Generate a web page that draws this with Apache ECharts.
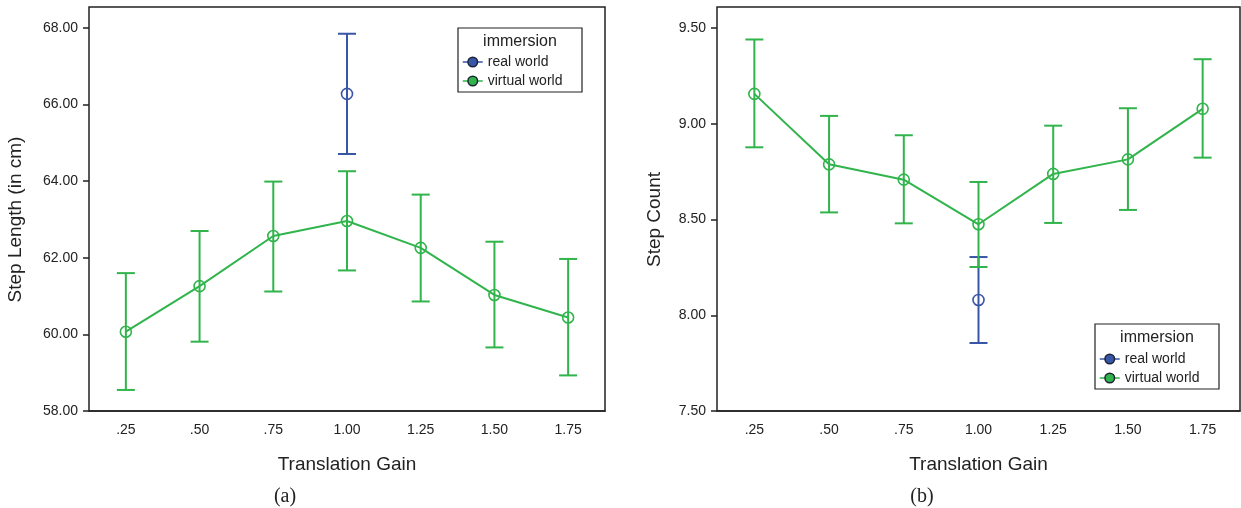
<!DOCTYPE html>
<html>
<head>
<meta charset="utf-8">
<script src="https://cdn.jsdelivr.net/npm/echarts@6/dist/echarts.min.js"></script>
<style>
  html, body { margin: 0; padding: 0; background: #fff; }
  #chart { width: 1241px; height: 508px; }
</style>
</head>
<body>
<div id="chart"></div>
<script>
// categories
const gains = ['.25', '.50', '.75', '1.00', '1.25', '1.50', '1.75']

// (a) step length, virtual world: mean and 95% CI
const lenVirtual = [60.07, 61.26, 62.57, 62.96, 62.26, 61.03, 60.44]
const lenVirtualLow = [58.55, 59.81, 61.12, 61.67, 60.86, 59.66, 58.93]
const lenVirtualHigh = [61.60, 62.70, 63.99, 64.26, 63.65, 62.42, 61.97]
// (a) step length, real world (only gain 1.00)
const lenReal = ['-', '-', '-', 66.28, '-', '-', '-']
const lenRealLow = ['-', '-', '-', 64.71, '-', '-', '-']
const lenRealHigh = ['-', '-', '-', 67.85, '-', '-', '-']

// (b) step count
const countVirtual = [9.156, 8.788, 8.708, 8.475, 8.738, 8.814, 9.078]
const countVirtualLow = [8.877, 8.537, 8.480, 8.252, 8.482, 8.550, 8.823]
const countVirtualHigh = [9.440, 9.041, 8.940, 8.696, 8.990, 9.081, 9.337]
const countReal = ['-', '-', '-', 8.08, '-', '-', '-']
const countRealLow = ['-', '-', '-', 7.855, '-', '-', '-']
const countRealHigh = ['-', '-', '-', 8.304, '-', '-', '-']

const GREEN = '#30b44b'
const BLUE = '#3855a8'
const INK = '#222'
const SANS = '"Liberation Sans", Arial, sans-serif'
const SERIF = '20px "Liberation Serif", "DejaVu Serif", serif'

function barData (low, high) {
  let out = []
  low.forEach((v, i) => {
    if (v !== '-') out.push([i, v, high[i]])
  })
  return out
}

function errorBars (name, axis, low, high, color) {
  return {
    name: name,
    type: 'custom',
    xAxisIndex: axis,
    yAxisIndex: axis,
    z: 4,
    silent: true,
    data: barData(low, high),
    renderItem: (params, api) => {
      let top = api.coord([api.value(0), api.value(2)])
      let bot = api.coord([api.value(0), api.value(1)])
      let hw = 9
      let style = { stroke: color, lineWidth: 2 }
      return {
        type: 'group',
        children: [
          { type: 'line', shape: { x1: top[0], y1: top[1], x2: bot[0], y2: bot[1] }, style: style },
          { type: 'line', shape: { x1: top[0] - hw, y1: top[1], x2: top[0] + hw, y2: top[1] }, style: style },
          { type: 'line', shape: { x1: bot[0] - hw, y1: bot[1], x2: bot[0] + hw, y2: bot[1] }, style: style }
        ]
      }
    }
  }
}

function meanLine (name, axis, data, color) {
  return {
    name: name,
    type: 'line',
    xAxisIndex: axis,
    yAxisIndex: axis,
    z: 3,
    data: data,
    symbol: 'circle',
    symbolSize: 11,
    showAllSymbol: true,
    connectNulls: false,
    lineStyle: { color: color, width: 2 },
    itemStyle: { color: 'rgba(0,0,0,0)', borderColor: color, borderWidth: 1.6 }
  }
}

function xAxis (grid) {
  return {
    type: 'category',
    gridIndex: grid,
    data: gains,
    boundaryGap: true,
    axisLine: { lineStyle: { color: INK, width: 1.5 } },
    axisTick: { alignWithLabel: true, length: 6, lineStyle: { color: INK, width: 1.5 } },
    axisLabel: { color: INK, fontSize: 14, fontFamily: SANS, margin: 12 },
    name: 'Translation Gain',
    nameLocation: 'middle',
    nameGap: 44,
    nameTextStyle: { color: INK, fontSize: 19, fontFamily: SANS }
  }
}

function yAxis (grid, min, max, step, title, gap) {
  return {
    type: 'value',
    gridIndex: grid,
    min: min,
    max: max,
    interval: step,
    splitLine: { show: false },
    axisLine: { show: false },
    axisTick: { show: true, length: 6, lineStyle: { color: INK, width: 1.5 } },
    axisLabel: { color: INK, fontSize: 14, fontFamily: SANS, margin: 11, formatter: (v) => v.toFixed(2) },
    name: title,
    nameLocation: 'middle',
    nameGap: gap,
    nameTextStyle: { color: INK, fontSize: 19, fontFamily: SANS }
  }
}

function legend (left, top) {
  return {
    orient: 'vertical',
    left: left,
    top: top,
    padding: 0,
    itemWidth: 20,
    itemHeight: 12,
    itemGap: 5,
    selectedMode: false,
    data: [
      { name: 'real world', itemStyle: { color: BLUE, borderColor: '#1d2535', borderWidth: 1.5 }, lineStyle: { color: BLUE, width: 1.5 } },
      { name: 'virtual world', itemStyle: { color: GREEN, borderColor: '#1d2535', borderWidth: 1.5 }, lineStyle: { color: GREEN, width: 1.5 } }
    ],
    textStyle: { color: INK, fontSize: 14, fontFamily: SANS, lineHeight: 14 }
  }
}

let myChart = echarts.init(document.getElementById('chart'))
let option = {
  animation: false,
  backgroundColor: '#fff',
  // the plot frame runs a bit above the top tick, so the grid is the tick range only
  grid: [
    { left: 89, top: 28, width: 516, height: 383 },
    { left: 717, top: 28, width: 523, height: 383 }
  ],
  xAxis: [xAxis(0), xAxis(1)],
  yAxis: [
    yAxis(0, 58, 68, 2, 'Step Length (in cm)', 64),
    yAxis(1, 7.5, 9.5, 0.5, 'Step Count', 53)
  ],
  legend: [legend(462, 55), legend(1099, 352)],
  graphic: [
    { type: 'rect', shape: { x: 89, y: 7, width: 516, height: 404 }, style: { fill: 'none', stroke: INK, lineWidth: 1.5 }, z: 0 },
    { type: 'rect', shape: { x: 717, y: 7, width: 523, height: 404 }, style: { fill: 'none', stroke: INK, lineWidth: 1.5 }, z: 0 },
    { type: 'rect', shape: { x: 458, y: 28, width: 124, height: 64 }, style: { fill: '#fff', stroke: INK, lineWidth: 1.2 }, z: 1 },
    { type: 'text', style: { x: 520, y: 34, text: 'immersion', fill: INK, font: '16px ' + SANS, textAlign: 'center' }, z: 2 },
    { type: 'rect', shape: { x: 1095, y: 324, width: 124, height: 65 }, style: { fill: '#fff', stroke: INK, lineWidth: 1.2 }, z: 1 },
    { type: 'text', style: { x: 1157, y: 330, text: 'immersion', fill: INK, font: '16px ' + SANS, textAlign: 'center' }, z: 2 },
    { type: 'text', style: { x: 285, y: 487, text: '(a)', fill: INK, font: SERIF, textAlign: 'center' } },
    { type: 'text', style: { x: 922, y: 487, text: '(b)', fill: INK, font: SERIF, textAlign: 'center' } }
  ],
  series: [
    meanLine('real world', 0, lenReal, BLUE),
    errorBars('real world', 0, lenRealLow, lenRealHigh, BLUE),
    meanLine('virtual world', 0, lenVirtual, GREEN),
    errorBars('virtual world', 0, lenVirtualLow, lenVirtualHigh, GREEN),
    meanLine('real world', 1, countReal, BLUE),
    errorBars('real world', 1, countRealLow, countRealHigh, BLUE),
    meanLine('virtual world', 1, countVirtual, GREEN),
    errorBars('virtual world', 1, countVirtualLow, countVirtualHigh, GREEN)
  ]
}
myChart.setOption(option)
</script>
</body>
</html>
